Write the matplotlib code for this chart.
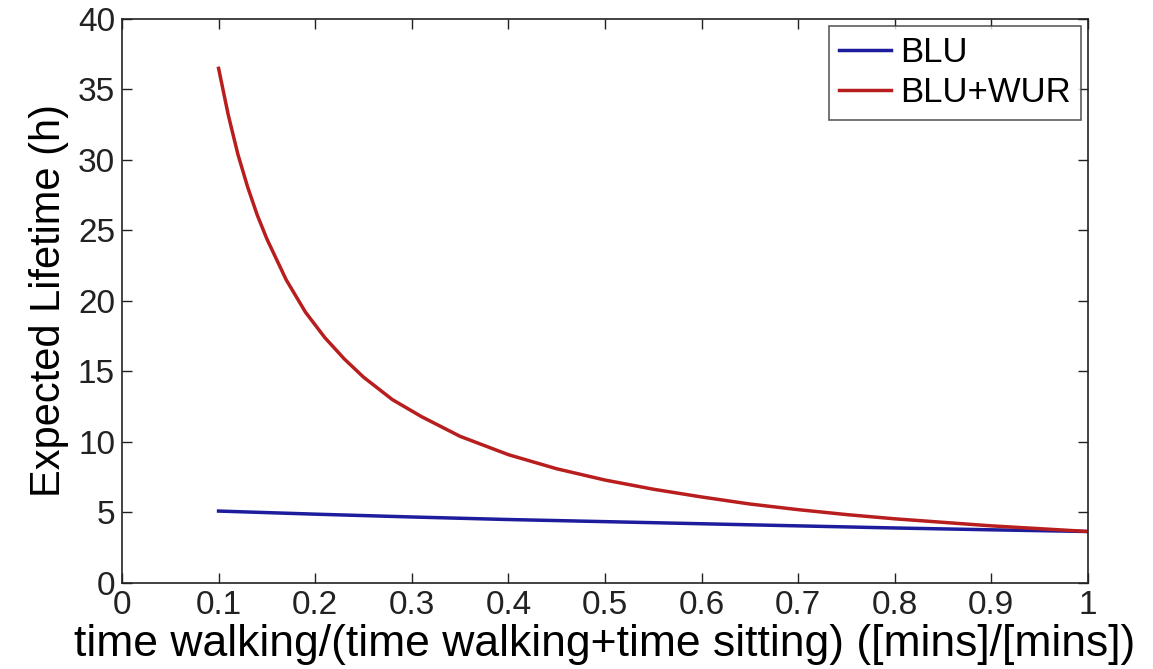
import matplotlib
matplotlib.use("Agg")
import matplotlib.pyplot as plt

# values
x_red = [0.10, 0.11, 0.12, 0.13, 0.14, 0.15, 0.17, 0.19, 0.21, 0.23, 0.25, 0.28, 0.31,
         0.35, 0.40, 0.45, 0.50, 0.55, 0.60, 0.65, 0.70, 0.75, 0.80, 0.85, 0.90, 0.95, 1.00]
blu_wur = [36.5, 33.2, 30.4, 28.1, 26.1, 24.4, 21.5, 19.2, 17.4, 15.9, 14.6, 13.0, 11.8,
           10.4, 9.1, 8.1, 7.3, 6.65, 6.1, 5.6, 5.2, 4.85, 4.55, 4.3, 4.05, 3.85, 3.65]

x_blue = [0.1, 0.2, 0.3, 0.4, 0.5, 0.6, 0.7, 0.8, 0.9, 1.0]
blu = [5.1, 4.88, 4.68, 4.5, 4.35, 4.2, 4.05, 3.9, 3.77, 3.65]

plt.rcParams["font.family"] = ["Liberation Sans", "DejaVu Sans"]

fig = plt.figure(figsize=(11.53, 6.69), dpi=100)
ax = fig.add_axes([0.1058, 0.1286, 0.8378, 0.843])

ax.plot(x_blue, blu, color="#1c1c9c", linewidth=2.5, label="BLU")
ax.plot(x_red, blu_wur, color="#b81e1e", linewidth=2.5, label="BLU+WUR")

ax.set_xlim(0, 1)
ax.set_ylim(0, 40)
ax.set_xticks([0, 0.1, 0.2, 0.3, 0.4, 0.5, 0.6, 0.7, 0.8, 0.9, 1])
ax.set_xticklabels(["0", "0.1", "0.2", "0.3", "0.4", "0.5", "0.6", "0.7", "0.8", "0.9", "1"])
ax.set_yticks(range(0, 41, 5))
ax.tick_params(direction="in", length=7, width=1, top=True, right=True,
               labelsize=24, colors="#222222", pad=5)
for s in ax.spines.values():
    s.set_linewidth(1.2)
    s.set_color("#222222")

ax.set_xlabel("time walking/(time walking+time sitting) ([mins]/[mins])", fontsize=32, labelpad=2)
ax.set_ylabel("Expected Lifetime (h)", fontsize=30, labelpad=6)

leg = ax.legend(loc="upper right", fontsize=25, fancybox=False, edgecolor="#333333",
                handlelength=1.5, handletextpad=0.25, borderaxespad=0.2, borderpad=0.3,
                labelspacing=0.2)
leg.get_frame().set_linewidth(1.2)

fig.savefig("out.png", dpi=100)
